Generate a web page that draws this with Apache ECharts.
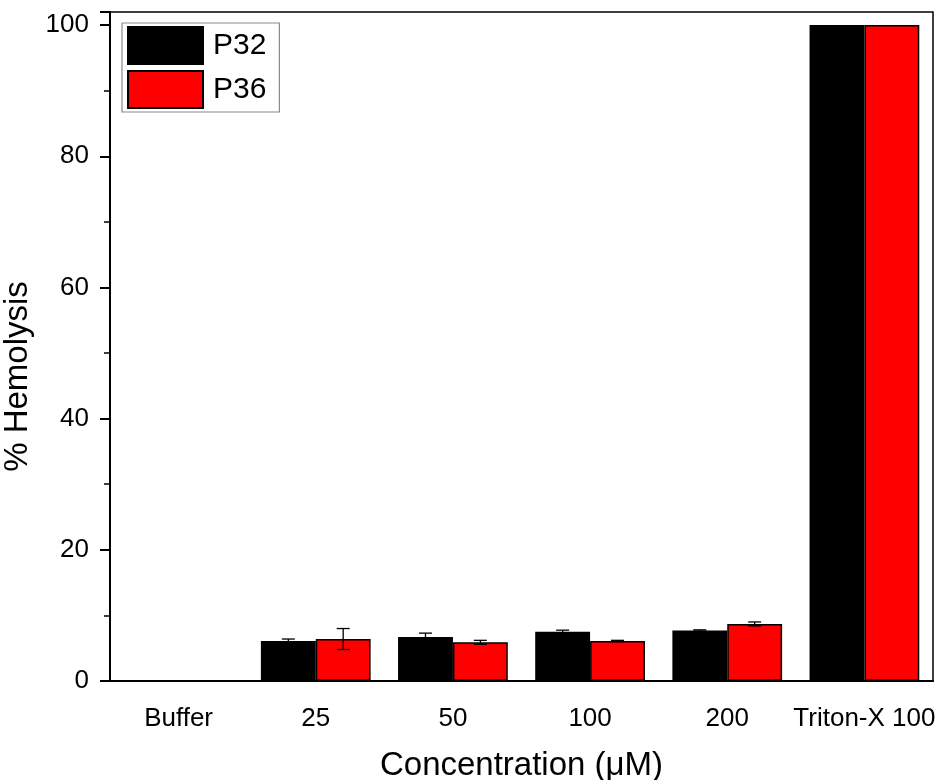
<!DOCTYPE html>
<html>
<head>
<meta charset="utf-8">
<script src="https://cdn.jsdelivr.net/npm/echarts@6/dist/echarts.min.js"></script>
<style>
html,body{margin:0;padding:0;background:#fff;}
#chart{width:938px;height:780px;}
</style>
</head>
<body>
<div id="chart"></div>
<script>
var categories = ['Buffer', '25', '50', '100', '200', 'Triton-X 100'];
var p32 = [0, 6.1, 6.7, 7.5, 7.7, 100];
var p32Err = [0, 0.3, 0.6, 0.25, 0.1, 0];
var p36 = [0, 6.4, 5.9, 6.1, 8.7, 100];
var p36Err = [0, 1.6, 0.3, 0.1, 0.3, 0];
var yTicks = [0, 20, 40, 60, 80, 100];

var FONT = '"Liberation Sans", Arial, sans-serif';

function errData(vals, errs) {
  var out = [];
  for (var i = 0; i < vals.length; i++) {
    if (errs[i] > 0) out.push([i, vals[i], errs[i]]);
  }
  return out;
}

function errRender(offsetFrac) {
  return function (params, api) {
    var idx = api.value(0), v = api.value(1), e = api.value(2);
    var band = api.size([1, 0])[0];
    var c = api.coord([idx, v]);
    var x = c[0] + offsetFrac * band;
    var yTop = api.coord([idx, v + e])[1];
    var yBot = api.coord([idx, v - e])[1];
    var hw = 6.5;
    var st = { stroke: '#000', lineWidth: 1.3 };
    return {
      type: 'group',
      children: [
        { type: 'line', shape: { x1: x, y1: yTop, x2: x, y2: yBot }, style: st },
        { type: 'line', shape: { x1: x - hw, y1: yTop, x2: x + hw, y2: yTop }, style: st },
        { type: 'line', shape: { x1: x - hw, y1: yBot, x2: x + hw, y2: yBot }, style: st }
      ]
    };
  };
}

var chart = echarts.init(document.getElementById('chart'), null, { renderer: 'canvas' });
chart.setOption({
  animation: false,
  backgroundColor: '#fff',
  textStyle: { fontFamily: FONT },
  grid: {
    left: 110, right: 5, top: 12, bottom: 99,
    containLabel: false,
    outerBoundsMode: 'none',
    show: true, borderColor: '#000', borderWidth: 1.5, backgroundColor: 'transparent'
  },
  legend: {
    orient: 'vertical',
    left: 122, top: 23,
    padding: [3, 13, 3, 5],
    itemGap: 5,
    itemWidth: 75, itemHeight: 37,
    borderColor: '#8a8a8a', borderWidth: 1.2,
    backgroundColor: '#fff',
    textStyle: { fontSize: 30, color: '#000', fontFamily: FONT, padding: [0, 0, 0, 5] },
    data: [
      { name: 'P32', icon: 'rect' },
      { name: 'P36', icon: 'rect' }
    ]
  },
  xAxis: {
    type: 'category',
    data: categories,
    boundaryGap: true,
    name: 'Concentration (\u03bcM)',
    nameLocation: 'middle',
    nameGap: 68,
    nameTextStyle: { fontSize: 33, color: '#000', fontFamily: FONT },
    axisLine: { lineStyle: { color: '#000', width: 2 } },
    axisTick: { alignWithLabel: true, length: 13, inside: false, lineStyle: { color: '#000', width: 2 } },
    axisLabel: { fontSize: 26, color: '#000', margin: 25, fontFamily: FONT, interval: 0, hideOverlap: false },
    splitLine: { show: false }
  },
  yAxis: {
    type: 'value',
    min: 0, max: 102, interval: 20,
    name: '% Hemolysis',
    nameLocation: 'middle',
    nameGap: 67,
    nameTextStyle: { fontSize: 33, color: '#000', fontFamily: FONT, padding: [0, 60, 0, 0] },
    axisLine: { show: true, lineStyle: { color: '#000', width: 2 } },
    axisTick: { show: true, length: 10, lineStyle: { color: '#000', width: 2 } },
    minorTick: { show: true, splitNumber: 2, length: 6, lineStyle: { color: '#000', width: 1.5 } },
    axisLabel: {
      fontSize: 26, color: '#000', margin: 21, fontFamily: FONT,
      formatter: function (v) { return yTicks.indexOf(v) >= 0 ? String(v) : ''; }
    },
    splitLine: { show: false }
  },
  series: [
    {
      name: 'P32', type: 'bar', data: p32,
      barGap: '0%', barCategoryGap: '20%',
      itemStyle: { color: '#000000', borderColor: '#000', borderWidth: 1.5 }
    },
    {
      name: 'P36', type: 'bar', data: p36,
      barGap: '0%', barCategoryGap: '20%',
      itemStyle: { color: '#ff0000', borderColor: '#000', borderWidth: 1.5 }
    },
    {
      name: 'P32err', type: 'custom', data: errData(p32, p32Err),
      renderItem: errRender(-0.2), z: 10, silent: true
    },
    {
      name: 'P36err', type: 'custom', data: errData(p36, p36Err),
      renderItem: errRender(0.2), z: 10, silent: true
    }
  ]
});
</script>
</body>
</html>
